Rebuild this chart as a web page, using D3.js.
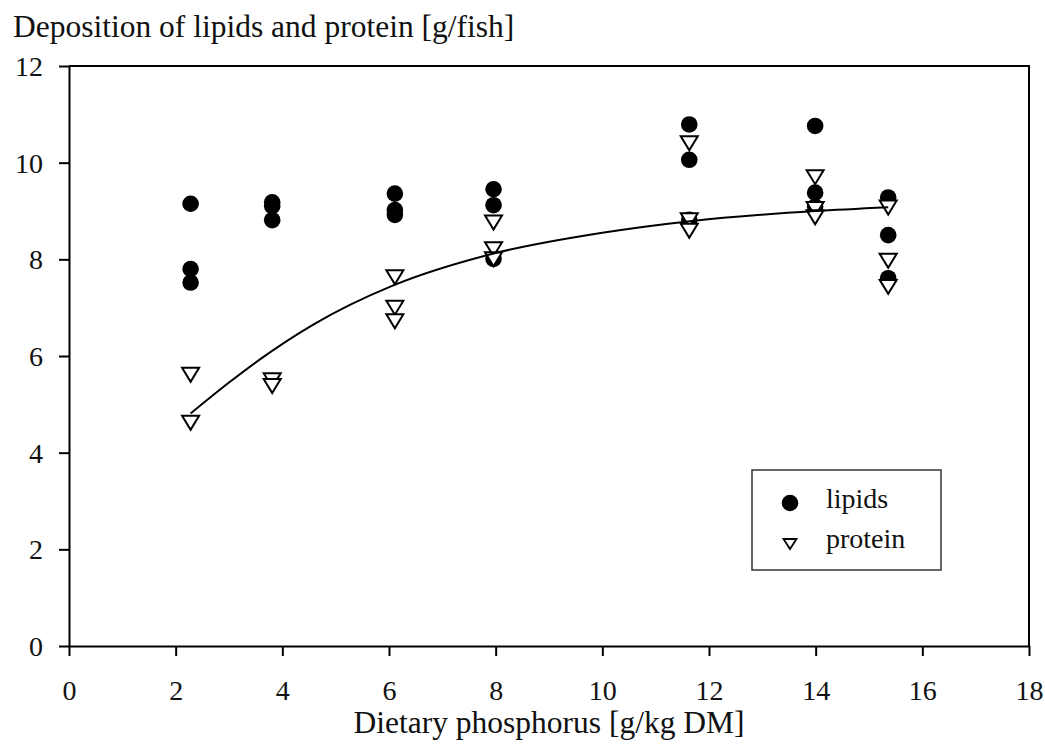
<!DOCTYPE html>
<html>
<head>
<meta charset="utf-8">
<script src="https://cdn.jsdelivr.net/npm/d3@7"></script>
<style>
  html, body { margin: 0; padding: 0; background: #fff; }
  svg { display: block; }
  text { font-family: "Liberation Serif", "Times New Roman", serif; fill: #111; }
</style>
</head>
<body>
<svg id="chart" width="1045" height="745"></svg>
<script>
// ---- data ----
const phosphorus = [2.28, 3.81, 6.11, 7.96, 11.63, 13.99, 15.36];
const lipids = [
  [9.15, 7.80, 7.52],
  [9.18, 9.10, 8.81],
  [9.36, 9.02, 8.92],
  [9.45, 9.12, 8.01],
  [10.79, 10.06, 8.82],
  [10.76, 9.38, 9.09],
  [9.28, 8.50, 7.61]
];
const protein = [
  [5.61, 4.62],
  [5.50, 5.38],
  [7.63, 7.00, 6.72],
  [8.76, 8.21, 8.00],
  [10.40, 8.81, 8.59],
  [9.70, 9.04, 8.87],
  [9.07, 7.97, 7.43]
];
// fitted curve
const fitX = [2.28, 3.0, 3.58, 4.58, 6.08, 7.96, 10.0, 11.64, 13.99, 15.36];
const fitY = [4.81, 5.45, 5.93, 6.65, 7.46, 8.12, 8.55, 8.79, 9.00, 9.08];

const xTicks = [0, 2, 4, 6, 8, 10, 12, 14, 16, 18];
const yTicks = [0, 2, 4, 6, 8, 10, 12];
const seriesNames = ["lipids", "protein"];
const yTitle = "Deposition of lipids and protein [g/fish]";
const xTitle = "Dietary phosphorus [g/kg DM]";

// ---- layout ----
const svg = d3.select("#chart");
const x = d3.scaleLinear().domain([0, 18]).range([69, 1029]);
const y = d3.scaleLinear().domain([0, 12]).range([646, 66]);

// frame (top + right)
svg.append("path")
  .attr("d", `M${x(0)},${y(12)}H${x(18)}V${y(0)}`)
  .attr("fill", "none").attr("stroke", "#000").attr("stroke-width", 2);

const xAxis = svg.append("g").attr("transform", `translate(0,${y(0)})`)
  .call(d3.axisBottom(x).tickValues(xTicks).tickFormat(d3.format("d")).tickSizeInner(10).tickSizeOuter(0).tickPadding(24));
const yAxis = svg.append("g").attr("transform", `translate(${x(0)},0)`)
  .call(d3.axisLeft(y).tickValues(yTicks).tickFormat(d3.format("d")).tickSizeInner(10).tickSizeOuter(0).tickPadding(16));
[xAxis, yAxis].forEach(g => {
  g.select(".domain").attr("stroke", "#000").attr("stroke-width", 2);
  g.selectAll(".tick line").attr("stroke", "#000").attr("stroke-width", 2);
  g.selectAll(".tick text").attr("font-size", 28).attr("font-family", "Liberation Serif").attr("fill", "#111");
});
yAxis.selectAll(".tick text").attr("dy", "0.34em");

// titles
svg.append("text").attr("x", 13).attr("y", 37).attr("font-size", 31.5).text(yTitle);
svg.append("text").attr("x", (x(0) + x(18)) / 2).attr("y", 733).attr("text-anchor", "middle").attr("font-size", 31.5).text(xTitle);

// markers
const triPath = (cx, cy, w, h) => `M${cx - w / 2},${cy - h / 2}H${cx + w / 2}L${cx},${cy + h / 2}Z`;

const lipPts = phosphorus.flatMap((p, i) => lipids[i].map(v => [p, v]));
const proPts = phosphorus.flatMap((p, i) => protein[i].map(v => [p, v]));

svg.append("g").selectAll("circle").data(lipPts).join("circle")
  .attr("cx", d => x(d[0])).attr("cy", d => y(d[1])).attr("r", 8.3).attr("fill", "#000");

svg.append("g").selectAll("path").data(proPts).join("path")
  .attr("d", d => triPath(x(d[0]), y(d[1]), 17, 14))
  .attr("fill", "#fff").attr("stroke", "#000").attr("stroke-width", 2).attr("stroke-linejoin", "miter");

// fitted curve
const line = d3.line().x(d => x(d[0])).y(d => y(d[1])).curve(d3.curveMonotoneX);
svg.append("path").datum(fitX.map((v, i) => [v, fitY[i]]))
  .attr("d", line).attr("fill", "none").attr("stroke", "#000").attr("stroke-width", 2);

// legend
const lg = svg.append("g");
lg.append("rect").attr("x", 752).attr("y", 470).attr("width", 189).attr("height", 100)
  .attr("fill", "#fff").attr("stroke", "#333").attr("stroke-width", 1.5);
lg.append("circle").attr("cx", 790).attr("cy", 503).attr("r", 8.3).attr("fill", "#000");
lg.append("path").attr("d", triPath(790, 544, 13, 10)).attr("fill", "#fff").attr("stroke", "#000").attr("stroke-width", 1.8);
lg.append("text").attr("x", 826).attr("y", 508).attr("font-size", 28).text(seriesNames[0]);
lg.append("text").attr("x", 826).attr("y", 548).attr("font-size", 28).text(seriesNames[1]);
</script>
</body>
</html>
